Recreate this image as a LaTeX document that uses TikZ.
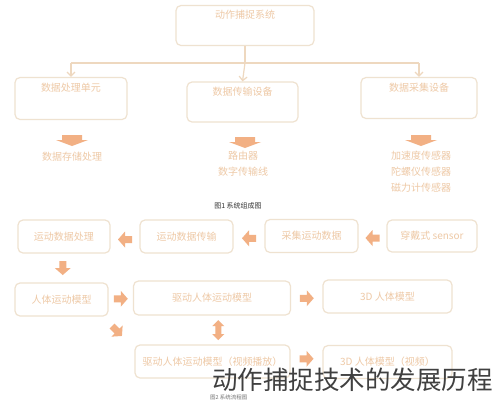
\documentclass[tikz,border=0pt]{standalone}
\usepackage{fontspec}
\setmainfont{Noto Sans CJK SC}
\usetikzlibrary{arrows.meta,calc}
\definecolor{boxline}{HTML}{EFE2D0}
\definecolor{boxtext}{HTML}{EEC9A6}
\definecolor{barrowc}{HTML}{F2B084}
\definecolor{connc}{HTML}{EED8BF}
\tikzset{
  box/.style={draw=boxline, line width=1.2pt, rounded corners=5pt, text=boxtext,
    font=\fontsize{10}{12}\selectfont, inner sep=0pt},
  conn/.style={draw=connc, line width=1.2pt, -{Straight Barb[length=4pt,width=8pt]}},
  note/.style={text=boxtext, font=\fontsize{10}{16}\selectfont, align=center, inner sep=0pt},
  smallarrow/.pic={\fill[barrowc] (-7,-3.5) -- (0,-3.5) -- (0,-8) -- (7,0) -- (0,8) -- (0,3.5) -- (-7,3.5) -- cycle;},
  widedown/.pic={\fill[barrowc] (-10,-5) -- (10,-5) -- (10,0) -- (16,0) -- (0,6) -- (-16,0) -- (-10,0) -- cycle;},
  dblarrow/.pic={\fill[barrowc] (0,-10) -- (6,-4) -- (3,-4) -- (3,4) -- (6,4) -- (0,10) -- (-6,4) -- (-3,4) -- (-3,-4) -- (-6,-4) -- cycle;},
}
\newcommand{\up}[1]{\smash{\raisebox{7pt}{#1}}}
\begin{document}
\begin{tikzpicture}[x=1pt,y=-1pt]
\useasboundingbox (0,0) rectangle (493,400);
\fill[white] (0,0) rectangle (493,400);
% top
\node[box, minimum width=138pt, minimum height=40pt] (top) at (245,25.5) {\up{动作捕捉系统}};
% row 1
\node[box, minimum width=112pt, minimum height=42pt] (l1) at (71,98.5) {\up{数据处理单元}};
\node[box, minimum width=111pt, minimum height=40pt] (m1) at (242.5,102) {\up{数据传输设备}};
\node[box, minimum width=116pt, minimum height=41pt] (r1) at (419,98) {\up{数据采集设备}};
\coordinate (j) at (245,63);
\draw[draw=connc, line width=1.2pt] (top.south) -- (j);
\draw[draw=connc, line width=1.2pt] (l1.north |- j) -- (r1.north |- j);
\draw[conn] (j) -- (m1.north);
\draw[conn] (l1.north |- j) -- (l1.north);
\draw[conn] (r1.north |- j) -- (r1.north);
% row 1 outputs
\pic at (72,140) {widedown};
\pic at (245,142) {widedown};
\pic at (421,140) {widedown};
\node[note] (n1) at (72,157) {数据存储处理};
\node[note, anchor=north] (n2) at (243,151) {路由器\\数字传输线};
\node[note, anchor=north] (n3) at (421,151) {加速度传感器\\陀螺仪传感器\\磁力计传感器};
% caption
\node[text=black!80, font=\fontsize{7}{8}\selectfont] (cap) at (238,206) {图1\ 系统组成图};
% row 2
\node[box, minimum width=92pt, minimum height=33pt] (a) at (64,236.5) {运动数据处理};
\node[box, minimum width=93pt, minimum height=33pt] (b) at (186.5,236.5) {运动数据传输};
\node[box, minimum width=93pt, minimum height=33pt] (c) at (311.5,236) {采集运动数据};
\node[box, minimum width=90pt, minimum height=32pt] (d) at (432,236) {穿戴式 sensor};
\pic[rotate=180] at ($(a.east)!0.5!(b.west)+(0,3)$) {smallarrow};
\pic[rotate=180] at ($(b.east)!0.5!(c.west)+(0,2)$) {smallarrow};
\pic[rotate=180] at ($(c.east)!0.5!(d.west)+(0,2)$) {smallarrow};
% row 3
\node[box, minimum width=93pt, minimum height=33pt] (e) at (61.5,299.5) {人体运动模型};
\node[box, minimum width=157pt, minimum height=34pt] (f) at (212,298) {驱动人体运动模型};
\node[box, minimum width=129pt, minimum height=33pt] (g) at (387.5,296.5) {3D 人体模型};
\pic[rotate=-90] at ($(a.south)!0.5!(e.north)$) {smallarrow};
\pic at ($(e.east)!0.5!(f.west)$) {smallarrow};
\pic at ($(f.east)!0.5!(g.west)+(0,1)$) {smallarrow};
% row 4
\node[box, minimum width=155pt, minimum height=33pt] (h) at (212.5,361.5) {驱动人体运动模型（视频播放）};
\node[box, minimum width=129pt, minimum height=33pt] (i) at (387.5,362) {3D 人体模型（视频）};
\pic[rotate=-45] at (117,331) {smallarrow};
\pic at ($(f.south)!0.5!(h.north)+(6,0)$) {dblarrow};
\pic at ($(h.east)!0.5!(i.west)+(0,-3)$) {smallarrow};
% overlay texts
\node[text=black!55, font=\fontsize{5.5}{6}\selectfont, anchor=west, inner sep=0pt] (cap2) at (210,397) {图2\ 系统流程图};
\node[text=black!75, font=\fontsize{25.5}{26}\selectfont, anchor=east, inner sep=0pt] (title) at (493,380) {动作捕捉技术的发展历程};
\end{tikzpicture}
\end{document}
